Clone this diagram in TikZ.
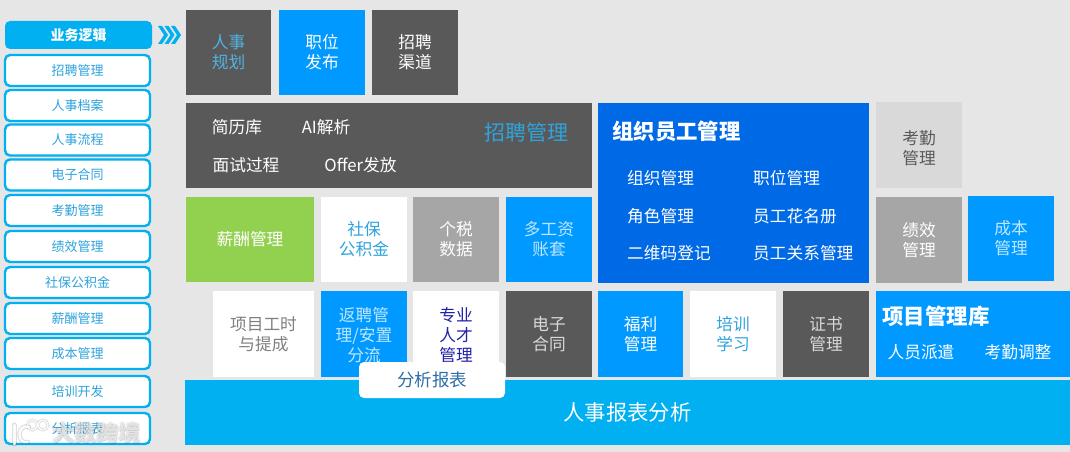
\documentclass[tikz,border=0pt]{standalone}
\usepackage{fontspec}
\setmainfont{Noto Sans CJK SC}
\usepackage{xcolor}
\usetikzlibrary{positioning}
\definecolor{pagebg}{HTML}{E6E6E6}
\definecolor{skyblue}{HTML}{00B0F0}
\definecolor{tileblue}{HTML}{0099FF}
\definecolor{orgblue}{HTML}{006AE6}
\definecolor{darkgray}{HTML}{595959}
\definecolor{midgray}{HTML}{A6A6A6}
\definecolor{lightgray}{HTML}{D9D9D9}
\definecolor{leafgreen}{HTML}{92D050}
\definecolor{listtext}{HTML}{2EA3DC}
\definecolor{plantext}{HTML}{4FB3E3}
\definecolor{paletext}{HTML}{BFE6FF}
\definecolor{navytext}{HTML}{2020A8}
\definecolor{reporttext}{HTML}{2F6FA8}
\tikzset{
  listbox/.style={draw=skyblue, fill=white, rounded corners=5pt, line width=2.4pt, minimum width=145pt, minimum height=31pt, inner sep=0pt, text=listtext, font=\fontsize{13}{16}\selectfont},
  listhead/.style={fill=skyblue, rounded corners=5pt, minimum width=147pt, minimum height=28pt, inner sep=0pt, text=white, font=\fontsize{14}{16}\selectfont\bfseries},
  tile/.style={minimum width=86pt, minimum height=85pt, inner sep=0pt, align=center, font=\fontsize{16.7}{20}\selectfont},
  darktile/.style={tile, fill=darkgray, text=white},
  bluetile/.style={tile, fill=tileblue, text=white},
  whitetile/.style={tile, fill=white, text=listtext},
  graytile/.style={tile, fill=midgray, text=white},
  blocktext/.style={inner sep=0pt, text=white, align=center, font=\fontsize{16.7}{20}\selectfont},
  blocktitle/.style={inner sep=0pt, text=white, font=\fontsize{21.4}{26}\selectfont\bfseries},
  orgitem/.style={blocktext, anchor=west},
  markshade/.style={inner sep=0pt, text=black, opacity=0.07, font=\fontsize{22}{26}\selectfont\bfseries},
  markglyph/.style={inner sep=0pt, text=white, opacity=0.6, font=\fontsize{22}{26}\selectfont\bfseries},
  logoshade/.style={draw=black, opacity=0.13, line cap=round},
  logoline/.style={draw=white, opacity=0.9, line cap=round}
}
\begin{document}
\begin{tikzpicture}[x=1pt,y=-1pt]

  % page
  \fill[pagebg] (0,0) rectangle (1070,452);
  \useasboundingbox (0,0) rectangle (1070,452);

  % left list
  \node[listhead] (head) at (78.5,35) {\raisebox{-0.7pt}{业务逻辑}};
  \foreach \name/\ypos/\label in {recruit/70.5/招聘管理, files/105.5/人事档案, flow/140/人事流程, contract/175/电子合同,
    attend/210.5/考勤管理, perf/246.5/绩效管理, social/282.5/社保公积金, salary/318.5/薪酬管理,
    cost/353.5/成本管理, train/391.5/培训开发, report/428.5/分析报表}
    \node[listbox] (\name) at (77.5,\ypos) {\label};

  % chevrons
  \foreach \xs in {0,6.5,13}
    \fill[skyblue, xshift=\xs pt] (158,26) -- (162,26) -- (168,35) -- (162,44) -- (158,44) -- (164,35) -- cycle;

  % top row
  \node[darktile, text=plantext, minimum width=85pt] (plan) at (228.5,52.5) {人事\\规划};
  \node[bluetile] (post) at (322,52.5) {职位\\发布};
  \node[darktile] (channel) at (415,52.5) {招聘\\渠道};

  % recruiting block
  \node[tile, fill=darkgray, minimum width=406pt] (hire) at (389,145.5) {};
  \node[blocktext] (resume) at (237,127) {简历库};
  \node[blocktext] (parse) at (326,127) {AI解析};
  \node[blocktext] (interview) at (246,165) {面试过程};
  \node[blocktext] (offer) at (360.5,165) {Offer发放};
  \node[blocktext, text=listtext, font=\fontsize{21}{26}\selectfont] (hiretitle) at (526,132) {招聘管理};

  % organisation block
  \node[tile, fill=orgblue, minimum width=271pt, minimum height=180pt] (org) at (733.5,193) {};
  \node[blocktitle, anchor=west] (orgtitle) at (612,131) {组织员工管理};
  \node[orgitem] (org1) at (627,178.5) {组织管理};
  \node[orgitem] (org2) at (753,178) {职位管理};
  \node[orgitem] (org3) at (627,216) {角色管理};
  \node[orgitem] (org4) at (753,216) {员工花名册};
  \node[orgitem] (org5) at (627,253) {二维码登记};
  \node[orgitem] (org6) at (753,253) {员工关系管理};

  % right column
  \node[tile, fill=lightgray, minimum height=86pt] (attendtile) at (919,145) {};
  \node[blocktext, text=darkgray] (attendtext) at (919,148) {考勤\\管理};
  \node[graytile, minimum height=86pt] (perftile) at (919,240) {绩效\\管理};
  \node[bluetile, text=paletext] (costtile) at (1011,238.5) {成本\\管理};

  % third row
  \node[tile, fill=leafgreen, text=white, minimum width=128pt] (pay) at (250,239.5) {薪酬管理};
  \node[whitetile] (fund) at (364,239.5) {社保\\公积金};
  \node[graytile] (tax) at (456,239.5) {个税\\数据};
  \node[bluetile, text=paletext] (ledger) at (549,239.5) {多工资\\账套};

  % fourth row
  \node[whitetile, text=gray, minimum width=101pt, minimum height=86pt] (hours) at (263.5,334) {项目工时\\与提成};
  \node[bluetile, text=paletext, minimum height=86pt] (rehire) at (364,334) {};
  \node[blocktext, text=paletext] (rehiretext) at (364,335) {返聘管\\理/安置\\分流};
  \node[whitetile, minimum height=86pt] (talent) at (456,334) {};
  \node[blocktext, text=navytext] (talenttext) at (456,335) {专业\\人才\\管理};
  \node[darktile, text=lightgray, minimum height=86pt] (esign) at (549,334) {电子\\合同};
  \node[bluetile, minimum width=85pt, minimum height=86pt] (welfare) at (640.5,334) {福利\\管理};
  \node[whitetile, minimum height=86pt] (study) at (733,334) {培训\\学习};
  \node[darktile, text=lightgray, minimum height=86pt] (cert) at (826,334) {证书\\管理};

  % project block
  \node[tile, fill=tileblue, minimum width=194pt, minimum height=86pt] (project) at (973,334) {};
  \node[blocktitle] (projecttitle) at (936,316) {项目管理库};
  \node[blocktext] (dispatch) at (921,352) {人员派遣};
  \node[blocktext] (adjust) at (1018,352) {考勤调整};

  % bottom band
  \node[tile, fill=skyblue, text=white, minimum width=885pt, minimum height=65pt, font=\fontsize{21.3}{26}\selectfont] (hrreport) at (627.5,412.5) {人事报表分析};
  \node[fill=white, rounded corners=5pt, minimum width=146pt, minimum height=36pt, inner sep=0pt, text=reporttext, font=\fontsize{17.5}{20}\selectfont] (popup) at (432,380) {分析报表};

  % watermark
  \foreach \dx/\dy in {-1/0,1/0,0/-1,0/1,1.5/1.5}
    \node[markshade] at (96+\dx,433+\dy) {大数跨境};
  \node[markglyph] (marktext) at (96,433) {大数跨境};
  \draw[logoshade, line width=5pt] (14,425) -- (14,444);
  \draw[logoshade, line width=4.5pt] (29,427) .. controls (17,423) and (16,445) .. (28,442);
  \draw[logoshade, line width=3pt] (32.5,425) circle[radius=5pt] (43,425) circle[radius=5pt];
  \draw[logoline, line width=3pt] (14,425) -- (14,444);
  \draw[logoline, line width=2.4pt] (29,427) .. controls (17,423) and (16,445) .. (28,442);
  \draw[logoline, line width=1.2pt] (32.5,425) circle[radius=5pt] (43,425) circle[radius=5pt];

\end{tikzpicture}
\end{document}
